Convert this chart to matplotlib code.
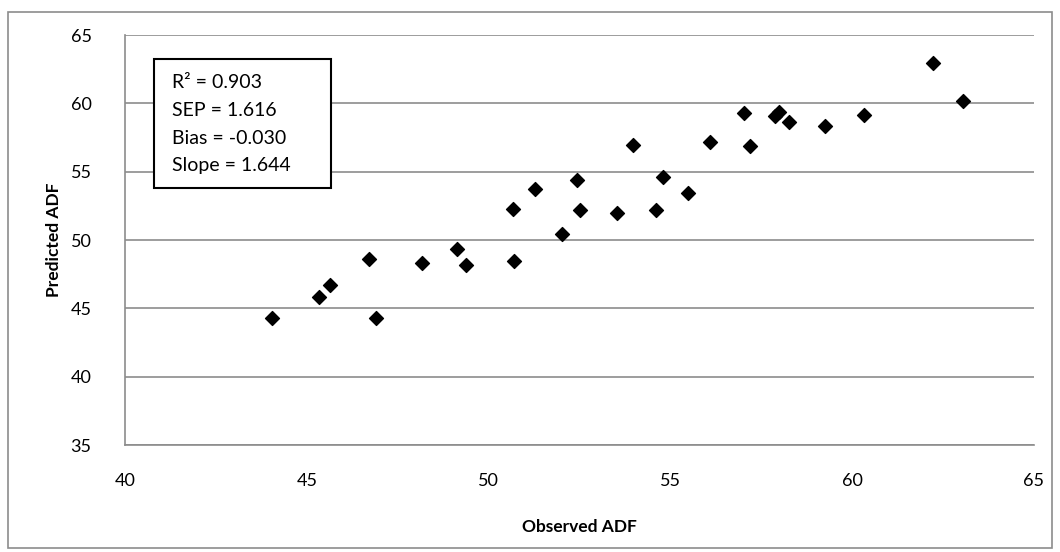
import matplotlib
matplotlib.use('Agg')
import matplotlib.pyplot as plt
from matplotlib.patches import Rectangle

plt.rcParams['font.family'] = ['Lato', 'DejaVu Sans']

# values
observed = [44.04, 45.34, 45.64, 46.71, 46.90, 48.17, 49.13, 49.38, 50.67, 50.70,
            51.28, 52.02, 52.43, 52.51, 53.53, 53.97, 54.60, 54.80, 55.48, 56.09,
            57.02, 57.19, 57.88, 57.99, 58.26, 59.25, 60.32, 62.22, 63.05]
predicted = [44.29, 45.83, 46.70, 48.60, 44.29, 48.30, 49.34, 48.17, 52.26, 48.46,
             53.73, 50.43, 54.39, 52.19, 51.97, 56.95, 52.19, 54.60, 53.43, 57.17,
             59.29, 56.87, 59.07, 59.36, 58.63, 58.34, 59.14, 62.94, 60.16]
stats = ['R² = 0.903', 'SEP = 1.616', 'Bias = -0.030', 'Slope = 1.644']
x_ticks = [40, 45, 50, 55, 60, 65]
y_ticks = [35, 40, 45, 50, 55, 60, 65]

W, H = 1060, 552
fig = plt.figure(figsize=(W / 100, H / 100), dpi=100)

def fx(px):
    return px / W

def fy(py):
    return 1 - py / H

# outer chart border
fig.patches.append(Rectangle((fx(8), fy(548)), fx(1052) - fx(8), fy(12) - fy(548),
                             transform=fig.transFigure, fill=False,
                             edgecolor='#8c8c8c', linewidth=1.2))

ax = fig.add_axes([fx(125), fy(445), fx(1034) - fx(125), fy(35) - fy(445)])
ax.scatter(observed, predicted, marker='D', s=50, color='black', zorder=3)

ax.set_xlim(40, 65)
ax.set_ylim(35, 65)
ax.set_xticks(x_ticks)
ax.set_yticks(y_ticks)
ax.tick_params(length=0, labelsize=13)
ax.tick_params(axis='x', pad=20)
ax.tick_params(axis='y', pad=24)
ax.yaxis.grid(True, color='#8c8c8c', linewidth=1.2)
ax.set_axisbelow(True)
for side in ['top', 'right']:
    ax.spines[side].set_visible(False)
for side in ['left', 'bottom']:
    ax.spines[side].set_color('#8c8c8c')
    ax.spines[side].set_linewidth(1.2)

ax.set_xlabel('Observed ADF', fontsize=12.5, fontweight='bold', labelpad=22)
ax.set_ylabel('Predicted ADF', fontsize=12.5, fontweight='bold', labelpad=6)

# stats box
fig.patches.append(Rectangle((fx(154), fy(188)), fx(331) - fx(154), fy(59) - fy(188),
                             transform=fig.transFigure, facecolor='white',
                             edgecolor='black', linewidth=1.5, zorder=5))
for i, line in enumerate(stats):
    fig.text(fx(172), fy(82 + i * 28), line, fontsize=14, va='center', ha='left', zorder=6)

fig.savefig('out.png', dpi=100)
